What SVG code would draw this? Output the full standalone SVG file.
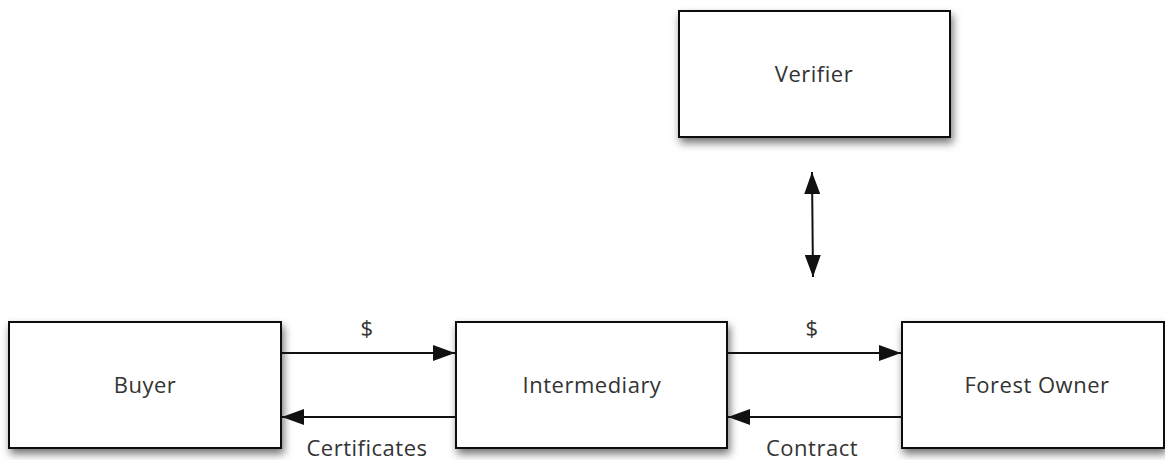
<svg xmlns="http://www.w3.org/2000/svg" width="1165" height="460" viewBox="0 0 1165 460">
  <style>
    .box { fill: #ffffff; stroke: #111111; stroke-width: 2; filter: url(#shadow); }
    .label { font-family: "Open Sans", "Noto Sans", sans-serif; font-size: 22px; letter-spacing: 0.5px; fill: #333333; text-anchor: middle; }
    .conn { stroke: #111111; stroke-width: 2; fill: none; }
  </style>
  <defs>
    <filter id="shadow" x="-10%" y="-20%" width="125%" height="150%">
      <feDropShadow dx="2" dy="5" stdDeviation="4" flood-color="#000000" flood-opacity="0.55"/>
    </filter>
    <marker id="arrow" viewBox="0 0 22 16" refX="22" refY="8" markerWidth="22" markerHeight="16" markerUnits="userSpaceOnUse" orient="auto-start-reverse">
      <path d="M0,0 L22,8 L0,16 Z" fill="#111111"/>
    </marker>
  </defs>
  <rect width="1165" height="460" fill="#ffffff"/>
  <g id="verifier">
    <rect class="box" x="679" y="11" width="271" height="126"/>
    <text class="label" x="814" y="82">Verifier</text>
  </g>
  <g id="buyer">
    <rect class="box" x="9" y="322" width="272" height="126"/>
    <text class="label" x="145" y="393">Buyer</text>
  </g>
  <g id="intermediary">
    <rect class="box" x="456" y="322" width="271" height="126"/>
    <text class="label" x="592" y="393">Intermediary</text>
  </g>
  <g id="forest-owner">
    <rect class="box" x="902" y="322" width="262" height="126"/>
    <text class="label" x="1037" y="393">Forest Owner</text>
  </g>
  <g id="connectors">
    <line class="conn" x1="281" y1="353" x2="455" y2="353" marker-end="url(#arrow)"/>
    <line class="conn" x1="456" y1="417" x2="282" y2="417" marker-end="url(#arrow)"/>
    <line class="conn" x1="727" y1="353" x2="901" y2="353" marker-end="url(#arrow)"/>
    <line class="conn" x1="902" y1="417" x2="728" y2="417" marker-end="url(#arrow)"/>
    <line class="conn" x1="812" y1="172" x2="813" y2="277" marker-start="url(#arrow)" marker-end="url(#arrow)"/>
    <text class="label" x="367" y="336">$</text>
    <text class="label" x="812" y="336">$</text>
    <text class="label" x="367" y="456">Certificates</text>
    <text class="label" x="812" y="456">Contract</text>
  </g>
</svg>
